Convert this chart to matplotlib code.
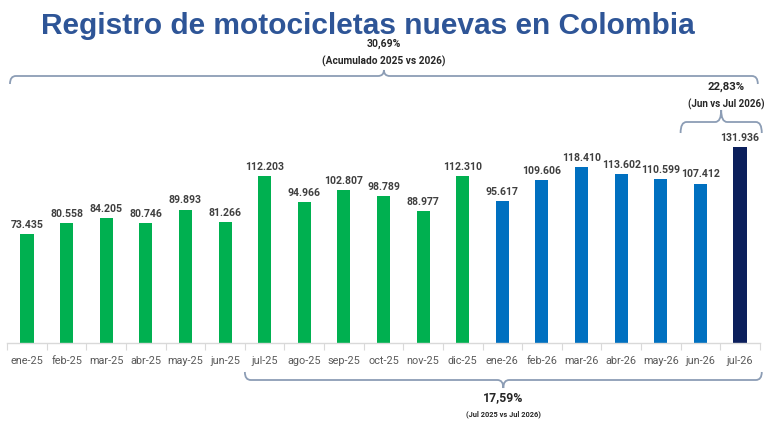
import matplotlib
matplotlib.use("Agg")
import matplotlib.pyplot as plt
from matplotlib import font_manager
from matplotlib.path import Path
from matplotlib.patches import PathPatch
from matplotlib.transforms import Affine2D, blended_transform_factory

months = ["ene-25", "feb-25", "mar-25", "abr-25", "may-25", "jun-25",
          "jul-25", "ago-25", "sep-25", "oct-25", "nov-25", "dic-25",
          "ene-26", "feb-26", "mar-26", "abr-26", "may-26", "jun-26", "jul-26"]
registros = [73435, 80558, 84205, 80746, 89893, 81266,
             112203, 94966, 102807, 98789, 88977, 112310,
             95617, 109606, 118410, 113602, 110599, 107412, 131936]
value_labels = ["73.435", "80.558", "84.205", "80.746", "89.893", "81.266",
                "112.203", "94.966", "102.807", "98.789", "88.977", "112.310",
                "95.617", "109.606", "118.410", "113.602", "110.599", "107.412", "131.936"]
bar_colors = ["#00B050"] * 12 + ["#0070C0"] * 6 + ["#0B1F5C"]

W, H = 768, 432

names = {f.name for f in font_manager.fontManager.ttflist}
narrow = "Liberation Sans Narrow" if "Liberation Sans Narrow" in names else "Roboto"
FAM = [narrow, "DejaVu Sans"]


def brace(ax, trans, x0, x1, y, h_end, h_tip, r, up=True, color="#8C9DB5"):
    # curly bracket, x in data units, y in pixels from top
    d = -1 if up else 1
    xm = (x0 + x1) / 2
    tip = y + d * h_tip
    end = y - d * h_end
    verts = [(x0, end), (x0, y), (x0 + r, y),
             (xm - r, y),
             (xm, y), (xm, tip),
             (xm, y), (xm + r, y),
             (x1 - r, y),
             (x1, y), (x1, end)]
    codes = [Path.MOVETO, Path.CURVE3, Path.CURVE3,
             Path.LINETO,
             Path.CURVE3, Path.CURVE3,
             Path.CURVE3, Path.CURVE3,
             Path.LINETO,
             Path.CURVE3, Path.CURVE3]
    ax.add_patch(PathPatch(Path(verts, codes), transform=trans, fill=False,
                           edgecolor=color, linewidth=1.3, clip_on=False))


def note(ax, trans, x, y, s, size):
    ax.text(x, y, s, transform=trans, ha="center", va="center", fontsize=size,
            fontweight="bold", color="#262626", family=FAM)


def main():
    fig = plt.figure(figsize=(W / 100, H / 100), dpi=100)
    ax = fig.add_axes([7.2 / W, (H - 343) / H, (759.8 - 7.2) / W, 213 / H])

    x = range(len(months))
    bars = ax.bar(x, registros, width=0.33, color=bar_colors, zorder=2)
    ax.bar_label(bars, labels=value_labels, padding=3, fontsize=7.6,
                 fontweight="bold", color="#404040", family=FAM)

    ax.set_xlim(-0.5, len(months) - 0.5)
    ax.set_ylim(0, 213 / 0.001484)
    ax.set_xticks(list(x))
    ax.set_xticklabels(months, fontsize=7.8, color="#595959", family=FAM)
    ax.set_xticks([i - 0.5 for i in range(len(months) + 1)], minor=True)
    ax.tick_params(axis="x", which="major", length=0, pad=9)
    ax.tick_params(axis="x", which="minor", length=5, color="#D9D9D9", width=0.8)
    ax.set_yticks([])
    for side in ["top", "right", "left"]:
        ax.spines[side].set_visible(False)
    ax.spines["bottom"].set_color("#D9D9D9")
    ax.spines["bottom"].set_linewidth(1)

    # y in pixels measured from the top of the figure
    px = Affine2D().scale(1, -1).translate(0, H)
    trans = blended_transform_factory(ax.transData, px)
    r = 0.15

    # acumulado
    brace(ax, trans, -0.43, 18.45, 76, 8, 6, r, up=True)
    note(ax, trans, 9.0, 44, "30,69%", 7.5)
    note(ax, trans, 9.0, 61, "(Acumulado 2025 vs 2026)", 7.3)

    # jun vs jul
    brace(ax, trans, 16.5, 18.55, 122, 11, 12, r, up=True)
    note(ax, trans, 17.65, 87, "22,83%", 8.2)
    note(ax, trans, 17.65, 104, "(Jun vs Jul 2026)", 7)

    # jul vs jul
    brace(ax, trans, 5.5, 18.55, 380, 8, 8, r, up=False)
    note(ax, trans, 12.02, 398, "17,59%", 8.8)
    note(ax, trans, 12.02, 414, "(Jul 2025 vs Jul 2026)", 5.3)

    fig.text(368 / W, 1 - 26 / H, "Registro de motocicletas nuevas en Colombia",
             ha="center", va="center", fontsize=21.5, fontweight="bold",
             color="#2E5597", family=["Liberation Sans", "DejaVu Sans"])

    fig.savefig("out.png", dpi=100)


main()
